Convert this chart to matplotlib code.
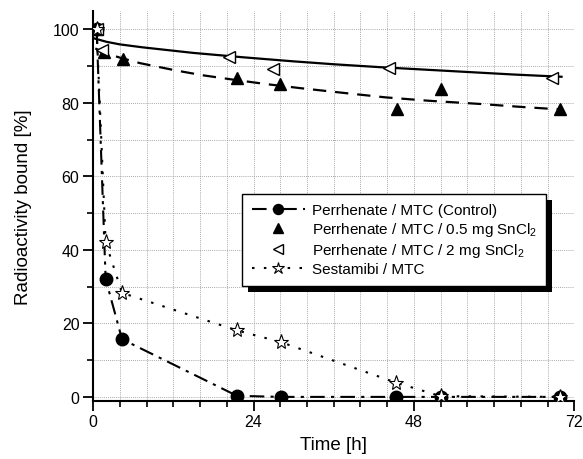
import matplotlib
matplotlib.use("Agg")
import matplotlib.pyplot as plt
from matplotlib.ticker import MultipleLocator
from matplotlib.patches import Rectangle

plt.rcParams['font.family'] = ['Liberation Sans', 'DejaVu Sans']
plt.rcParams['mathtext.fontset'] = 'custom'
plt.rcParams['mathtext.rm'] = 'Liberation Sans'
plt.rcParams['mathtext.default'] = 'regular'

control_t = [0.5, 1.85, 4.3, 21.5, 28.05, 45.3, 52.0, 69.8]
control_y = [100, 32.1, 15.7, 0.3, 0, 0, 0, 0]

sn05_t = [0.5, 1.6, 4.4, 21.5, 27.9, 45.4, 52.0, 69.9]
sn05_y = [100, 93.7, 91.9, 86.8, 85.1, 78.3, 83.7, 78.4]

sn2_t = [0.5, 1.3, 20.3, 26.9, 44.2, 68.6]
sn2_y = [100, 94.4, 92.5, 89.2, 89.4, 86.8]

sestamibi_t = [0.5, 1.85, 4.3, 21.5, 28.1, 45.3, 52.0, 69.8]
sestamibi_y = [100, 42.1, 28.3, 18.1, 14.9, 3.9, 0.2, 0]

# fitted curves
fit05_t = [0.3, 2, 4, 7, 12.4, 16.4, 21, 25.9, 31, 37, 43.7, 50, 57.9, 64, 70]
fit05_y = [94.8, 93.4, 92.3, 90.8, 88.8, 87.5, 86.3, 85.1, 84.0, 82.8, 81.5, 80.6, 79.7, 78.9, 78.2]

fit2_t = [0.2, 2, 4, 7.4, 14.9, 22.4, 29.9, 36, 43, 50, 57, 63, 70.1]
fit2_y = [97.5, 96.6, 95.9, 95.1, 93.6, 92.4, 91.3, 90.5, 89.7, 89.0, 88.3, 87.7, 87.1]

labels = ['Perrhenate / MTC (Control)',
          r'Perrhenate / MTC / 0.5 mg SnCl$_2$',
          r'Perrhenate / MTC / 2 mg SnCl$_2$',
          'Sestamibi / MTC']

fig = plt.figure(figsize=(5.83, 4.6), dpi=100)
ax = fig.add_axes([0.16, 0.127, 0.825, 0.847])

# grid
ax.set_axisbelow(True)
ax.grid(which='both', color='0.55', linestyle=(0, (1, 1.5)), linewidth=0.6)

# fit curves
ax.plot(fit2_t, fit2_y, '-', color='k', lw=1.6, zorder=2)
ax.plot(fit05_t, fit05_y, color='k', lw=1.6, dashes=(6, 4), zorder=2)

h_control, = ax.plot(control_t, control_y, color='k', lw=1.5,
                     dashes=(7, 3, 1.5, 3), marker='o', ms=9,
                     mfc='k', mec='k', label=labels[0], zorder=3)
h_05, = ax.plot(sn05_t, sn05_y, ls='none', marker='^', ms=9,
                mfc='k', mec='k', label=labels[1], zorder=3)
h_2, = ax.plot(sn2_t, sn2_y, ls='none', marker='<', ms=9,
               mfc='white', mec='k', mew=1.0, label=labels[2], zorder=3)
h_ses, = ax.plot(sestamibi_t, sestamibi_y, color='k', lw=1.5,
                 dashes=(1.2, 4.5), marker='*', ms=11,
                 mfc='white', mec='k', mew=0.8, label=labels[3], zorder=4)

ax.set_xlim(0, 72)
ax.set_ylim(-1, 105)
ax.set_xticks([0, 24, 48, 72])
ax.xaxis.set_minor_locator(MultipleLocator(4))
ax.set_yticks([0, 20, 40, 60, 80, 100])
ax.yaxis.set_minor_locator(MultipleLocator(10))

for side in ['top', 'right']:
    ax.spines[side].set_visible(False)
for side in ['left', 'bottom']:
    ax.spines[side].set_linewidth(1.5)

ax.tick_params(which='major', direction='out', length=7, width=1.3,
               labelsize=11.5, pad=3)
ax.tick_params(which='minor', direction='out', length=4, width=1.2)

ax.set_xlabel('Time [h]', fontsize=13.5, labelpad=5)
ax.set_ylabel('Radioactivity bound [%]', fontsize=13.5, labelpad=15)

leg = ax.legend(handles=[h_control, h_05, h_2, h_ses], loc='upper left',
                bbox_to_anchor=(0.31, 0.53), fontsize=11, numpoints=1,
                handlelength=3.5, handletextpad=0.45, labelspacing=0.2,
                borderpad=0.6, fancybox=False, framealpha=1,
                edgecolor='k', borderaxespad=0, markerscale=0.8)
leg.get_frame().set_linewidth(1.0)
leg.set_zorder(6)

# solid black drop shadow behind the legend box
fig.canvas.draw()
bb = leg.get_window_extent()
shadow = Rectangle((bb.x0 + 6, bb.y0 - 6), bb.width, bb.height,
                   transform=None, facecolor='k', edgecolor='none', zorder=5.5)
ax.add_artist(shadow)

fig.savefig('out.png', dpi=100)
